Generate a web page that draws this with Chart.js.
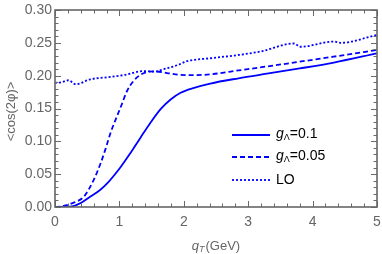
<!DOCTYPE html>
<html>
<head>
<meta charset="utf-8">
<script src="https://cdn.jsdelivr.net/npm/chart.js@4.4.1/dist/chart.umd.min.js"></script>
<style>
html,body{margin:0;padding:0;background:#fff;}
canvas{display:block;}
</style>
</head>
<body>
<canvas id="c" width="382" height="254"></canvas>
<script>
// Data
const qT_g01 = [0, 0.1, 0.24, 0.4, 0.55, 0.7, 0.81, 1.02, 1.17, 1.33, 1.48, 1.64, 1.8, 1.95, 2.16, 2.41, 2.85, 3.29, 3.8, 4.33, 5.0];
const cos_g01 = [0, 0, 0.0005, 0.006, 0.016, 0.026, 0.036, 0.061, 0.082, 0.106, 0.128, 0.149, 0.164, 0.174, 0.1815, 0.188, 0.196, 0.203, 0.211, 0.220, 0.234];

const qT_g005 = [0, 0.1, 0.3, 0.45, 0.6, 0.71, 0.78, 0.87, 0.97, 1.04, 1.12, 1.22, 1.33, 1.43, 1.55, 1.74, 1.95, 2.16, 2.41, 2.85, 3.29, 4.33, 5.0];
const cos_g005 = [0, 0.001, 0.007, 0.016, 0.041, 0.067, 0.087, 0.115, 0.140, 0.157, 0.177, 0.192, 0.2015, 0.2055, 0.2065, 0.204, 0.2012, 0.2008, 0.202, 0.208, 0.214, 0.229, 0.239];

const qT_LO = [0, 0.1, 0.21, 0.32, 0.55, 0.86, 1.07, 1.38, 1.55, 1.64, 1.9, 2.05, 2.41, 2.85, 3.2, 3.71, 3.81, 4.33, 4.43, 5.0];
const cos_LO = [0.189, 0.190, 0.193, 0.187, 0.1945, 0.198, 0.201, 0.207, 0.206, 0.2085, 0.216, 0.222, 0.2265, 0.2315, 0.237, 0.249, 0.244, 0.252, 0.250, 0.262];

const seriesNames = ['g_Λ=0.1', 'g_Λ=0.05', 'LO'];
const xTicks = [0, 1, 2, 3, 4, 5];
const yTicks = [0, 0.05, 0.10, 0.15, 0.20, 0.25, 0.30];

const pts = (xs, ys) => xs.map((x, i) => ({x: x, y: ys[i]}));
const BLUE = '#0000ff';

const framePlugin = {
  id: 'frame',
  afterDraw(chart) {
    const ctx = chart.ctx;
    const a = chart.chartArea;
    const xs = chart.scales.x, ys = chart.scales.y;
    ctx.save();
    ctx.strokeStyle = '#6a6a6a';
    ctx.lineWidth = 1;
    ctx.beginPath();
    for (let i = 0; i <= 25; i++) {
      const v = i * 0.2;
      const px = Math.round(xs.getPixelForValue(v)) + 0.5;
      const len = (i % 5 === 0) ? 6 : 3.5;
      ctx.moveTo(px, a.bottom); ctx.lineTo(px, a.bottom - len);
      ctx.moveTo(px, a.top); ctx.lineTo(px, a.top + len);
    }
    for (let i = 0; i <= 30; i++) {
      const v = i * 0.01;
      const py = Math.round(ys.getPixelForValue(v)) + 0.5;
      const len = (i % 5 === 0) ? 6 : 3.5;
      ctx.moveTo(a.left, py); ctx.lineTo(a.left + len, py);
      ctx.moveTo(a.right, py); ctx.lineTo(a.right - len, py);
    }
    ctx.stroke();
    ctx.lineWidth = 1.6;
    ctx.strokeStyle = '#666';
    ctx.strokeRect(a.left, a.top, a.right - a.left, a.bottom - a.top);

    // axis titles
    ctx.fillStyle = '#666';
    ctx.textBaseline = 'middle';
    const xc = (a.left + a.right) / 2;
    const ty = 246;
    ctx.font = 'italic 13px "Liberation Sans", Arial, sans-serif';
    const wq = ctx.measureText('q').width;
    ctx.font = 'italic 9px "Liberation Sans", Arial, sans-serif';
    const wT = ctx.measureText('T').width;
    ctx.font = '13px "Liberation Sans", Arial, sans-serif';
    const wr = ctx.measureText('(GeV)').width;
    let sx = xc - (wq + wT + 1 + wr) / 2;
    ctx.textAlign = 'left';
    ctx.font = 'italic 13px "Liberation Sans", Arial, sans-serif';
    ctx.fillText('q', sx, ty);
    ctx.font = 'italic 9px "Liberation Sans", Arial, sans-serif';
    ctx.fillText('T', sx + wq, ty + 3);
    ctx.font = '13px "Liberation Sans", Arial, sans-serif';
    ctx.fillText('(GeV)', sx + wq + wT + 1, ty);

    ctx.save();
    ctx.translate(11, (a.top + a.bottom) / 2 + 3);
    ctx.rotate(-Math.PI / 2);
    ctx.textAlign = 'center';
    ctx.font = '13px "Liberation Sans", Arial, sans-serif';
    ctx.fillText('<cos(2φ)>', 0, 0);
    ctx.restore();

    // legend
    const rows = [135, 157, 180];
    chart.data.datasets.forEach((ds, i) => {
      const y = rows[i];
      ctx.save();
      ctx.strokeStyle = ds.borderColor;
      ctx.lineWidth = ds.borderWidth;
      ctx.setLineDash(ds.borderDash || []);
      ctx.beginPath();
      ctx.moveTo(232, y); ctx.lineTo(270, y);
      ctx.stroke();
      ctx.restore();
      ctx.fillStyle = '#000';
      ctx.textAlign = 'left';
      ctx.textBaseline = 'middle';
      const name = seriesNames[i];
      let x = 276;
      if (name.indexOf('_') >= 0) {
        const base = name.split('_')[0];
        const rest = name.split('_')[1];
        const sub = rest.charAt(0);
        const tail = rest.slice(1);
        ctx.font = 'italic 14px "Liberation Sans", Arial, sans-serif';
        ctx.fillText(base, x, y - 1);
        x += ctx.measureText(base).width;
        ctx.font = '9px "Liberation Sans", Arial, sans-serif';
        ctx.fillText(sub, x, y + 3);
        x += ctx.measureText(sub).width;
        ctx.font = '14px "Liberation Sans", Arial, sans-serif';
        ctx.fillText(tail, x, y - 1);
      } else {
        ctx.font = '14px "Liberation Sans", Arial, sans-serif';
        ctx.fillText(name, x, y);
      }
    });
    ctx.restore();
  }
};

new Chart(document.getElementById('c'), {
  type: 'line',
  data: {
    datasets: [
      {label: seriesNames[0], data: pts(qT_g01, cos_g01), borderColor: BLUE, borderWidth: 1.8, pointRadius: 0, fill: false, cubicInterpolationMode: 'monotone'},
      {label: seriesNames[1], data: pts(qT_g005, cos_g005), borderColor: BLUE, borderWidth: 1.8, borderDash: [5, 3], pointRadius: 0, fill: false, cubicInterpolationMode: 'monotone'},
      {label: seriesNames[2], data: pts(qT_LO, cos_LO), borderColor: BLUE, borderWidth: 1.8, borderDash: [2, 2], pointRadius: 0, fill: false, cubicInterpolationMode: 'monotone'}
    ]
  },
  options: {
    responsive: false,
    animation: false,
    events: [],
    layout: {padding: {left: 0, right: 0, top: 10, bottom: 0}},
    plugins: {legend: {display: false}, tooltip: {enabled: false}},
    scales: {
      x: {
        type: 'linear', min: 0, max: 5,
        afterBuildTicks: (s) => { s.ticks = xTicks.map(v => ({value: v})); },
        afterFit: (s) => { s.height = 47; s.paddingRight = 5; s.paddingLeft = 0; },
        grid: {display: false, drawTicks: false},
        border: {display: false},
        ticks: {color: '#666', padding: 7, font: {family: '"Liberation Sans", Arial, sans-serif', size: 14}, callback: (v) => String(v)}
      },
      y: {
        type: 'linear', min: 0, max: 0.3,
        afterBuildTicks: (s) => { s.ticks = yTicks.map(v => ({value: v})); },
        afterFit: (s) => { s.width = 55; s.paddingTop = 0; s.paddingBottom = 0; },
        grid: {display: false, drawTicks: false},
        border: {display: false},
        ticks: {color: '#666', padding: 3, font: {family: '"Liberation Sans", Arial, sans-serif', size: 14}, callback: (v) => Number(v).toFixed(2)}
      }
    }
  },
  plugins: [framePlugin]
});
</script>
</body>
</html>
